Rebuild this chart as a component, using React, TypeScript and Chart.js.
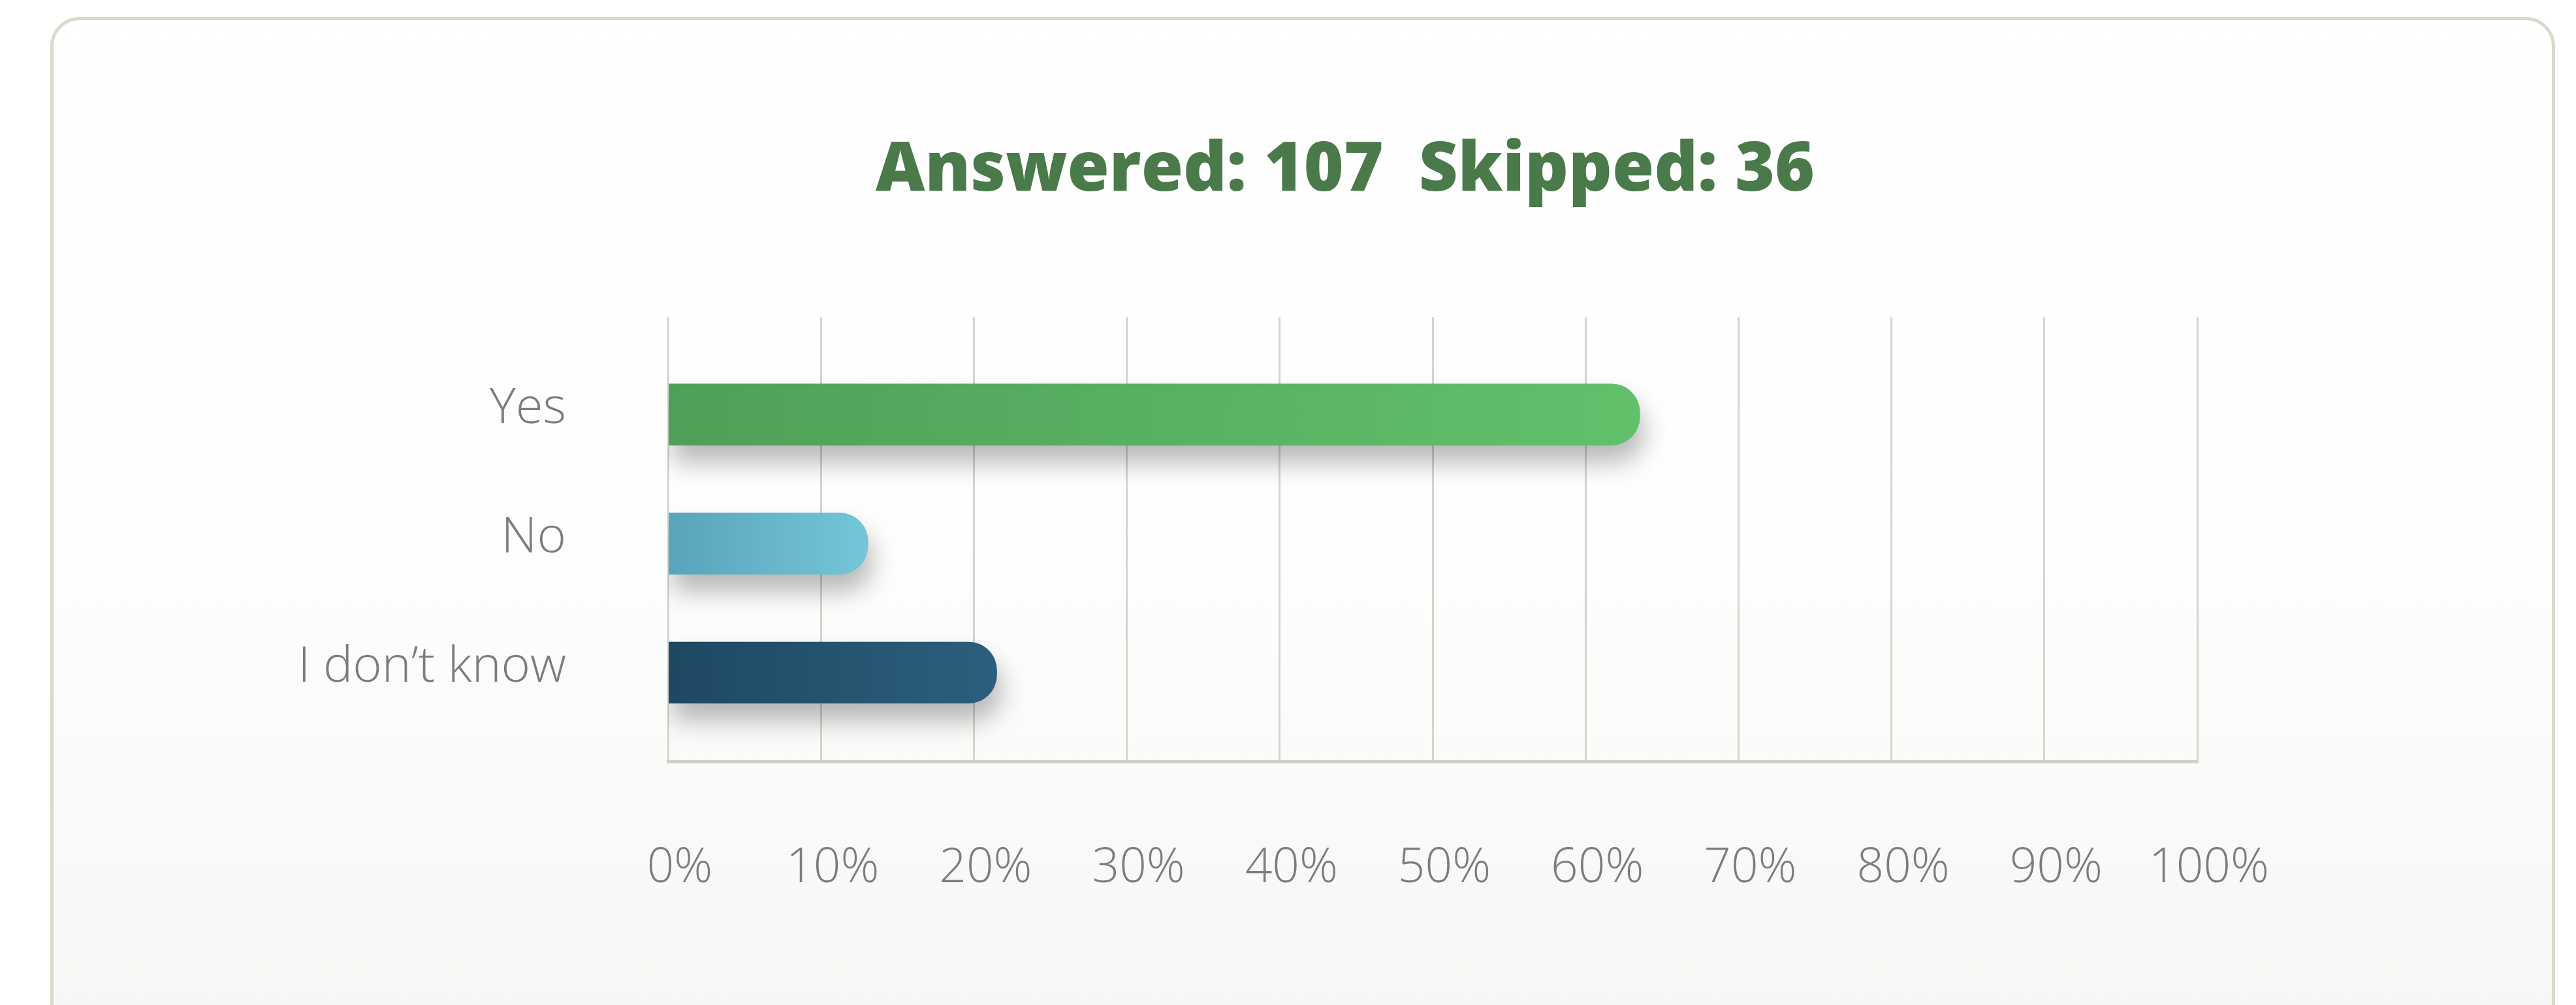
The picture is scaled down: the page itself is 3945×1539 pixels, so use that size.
import React, { useEffect, useRef } from "react";
import { Chart, registerables } from "chart.js";

Chart.register(...registerables);

// ---- data ----
const categories = ["Yes", "No", "I don’t know"];
const percentValues = [63.55, 13.08, 21.5];
const xTickStep = 10;
const xMin = 0;
const xMax = 100;
const titleText = "Answered: 107  Skipped: 36";

// ---- styles ----
const barGradients = [
  ["#4fa057", "#61c16b"],
  ["#58a4ba", "#75c6d9"],
  ["#1d4862", "#2c5f7d"],
];

const W = 3945;
const H = 1539;

const barShadow = {
  id: "barShadow",
  beforeDatasetsDraw(chart: any) {
    const c = chart.ctx;
    c.save();
    c.shadowColor = "rgba(0,0,0,0.28)";
    c.shadowBlur = 38;
    c.shadowOffsetX = 6;
    c.shadowOffsetY = 26;
  },
  afterDatasetsDraw(chart: any) {
    chart.ctx.restore();
  },
};

export default function App() {
  const ref = useRef<HTMLCanvasElement | null>(null);

  useEffect(() => {
    if (!ref.current) return;
    const chart = new Chart(ref.current, {
      type: "bar",
      data: {
        datasets: [
          {
            data: categories.map((c, i) => ({ x: percentValues[i], y: i })) as any,
            barThickness: 94,
            borderRadius: 44,
            borderSkipped: "start",
            backgroundColor: (ctx: any) => {
              const i = ctx.dataIndex ?? 0;
              const fallback = barGradients[i % 3][0];
              const xs = ctx.chart.scales?.x;
              if (!xs || ctx.type !== "data") return fallback;
              const x0 = xs.getPixelForValue(xMin);
              const x1 = xs.getPixelForValue(percentValues[i]);
              if (!isFinite(x0) || !isFinite(x1) || x1 === x0) return fallback;
              const g = ctx.chart.ctx.createLinearGradient(x0, 0, x1, 0);
              g.addColorStop(0, barGradients[i][0]);
              g.addColorStop(1, barGradients[i][1]);
              return g;
            },
          },
        ],
      },
      options: {
        indexAxis: "y",
        responsive: false,
        animation: false,
        devicePixelRatio: 1,
        layout: { padding: { left: 755, right: 580, top: 0, bottom: 173 } },
        plugins: {
          legend: { display: false },
          tooltip: { enabled: false },
          title: {
            display: true,
            text: titleText,
            color: "#4a7a4a",
            font: { family: "'Open Sans', sans-serif", size: 104, weight: "800" },
            padding: { top: 200, bottom: 161 },
          },
        },
        scales: {
          x: {
            type: "linear",
            min: xMin,
            max: xMax,
            ticks: {
              stepSize: xTickStep,
              padding: 120,
              labelOffset: 18,
              color: "#7d7d7d",
              font: { family: "'Open Sans', sans-serif", size: 73, weight: "300" },
              callback: (v: any) => v + "%",
            },
            grid: { color: "#d2d7c9", lineWidth: 3, drawTicks: false },
            border: { color: "#cdd1c6", width: 5 },
            afterFit: (s: any) => {
              s.height = 200;
            },
          },
          y: {
            type: "linear",
            reverse: true,
            offset: false,
            min: -0.7544,
            max: 2.6886,
            afterBuildTicks: (s: any) => {
              s.ticks = categories.map((_, i) => ({ value: i }));
            },
            afterUpdate: (s: any) => {
              s._computeLabelArea = () => undefined;
            },
            ticks: {
              padding: 156,
              labelOffset: -8,
              color: "#7d7d7d",
              font: { family: "'Open Sans', sans-serif", size: 76, weight: "300" },
              callback: (v: any) => categories[v] ?? "",
            },
            grid: { display: false, drawTicks: false },
            border: { display: false },
            afterFit: (s: any) => {
              s.width = 268;
            },
          },
        },
      },
      plugins: [barShadow],
    } as any);
    return () => chart.destroy();
  }, []);

  return (
    <div style={{ position: "fixed", left: 0, top: 0, width: W, height: H, background: "#ffffff", overflow: "hidden" }}>
      <div
        style={{
          position: "absolute",
          left: 77,
          top: 26,
          width: 3836,
          height: 1600,
          boxSizing: "border-box",
          border: "5px solid #d5dccb",
          borderRadius: 45,
          background: "linear-gradient(180deg, #ffffff 0%, #fefefe 50%, #f6f6f4 100%)",
        }}
      />
      <canvas ref={ref} width={W} height={H} style={{ position: "absolute", left: 0, top: 0, width: W, height: H }} />
    </div>
  );
}
